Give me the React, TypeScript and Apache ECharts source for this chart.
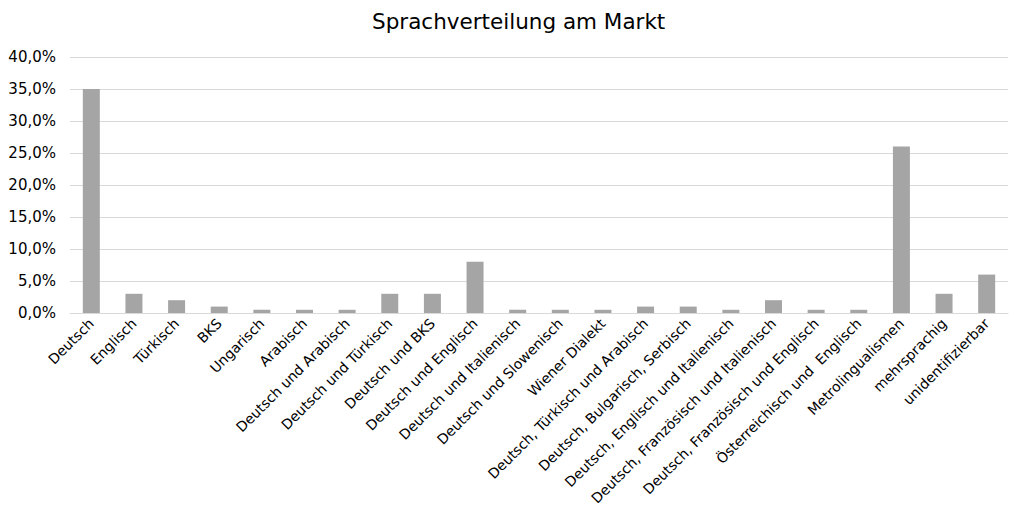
import React, { useEffect, useRef } from "react";
import * as echarts from "echarts";

const title = "Sprachverteilung am Markt";
const categories = [
  "Deutsch",
  "Englisch",
  "Türkisch",
  "BKS",
  "Ungarisch",
  "Arabisch",
  "Deutsch und Arabisch",
  "Deutsch und Türkisch",
  "Deutsch und BKS",
  "Deutsch und Englisch",
  "Deutsch und Italienisch",
  "Deutsch und Slowenisch",
  "Wiener Dialekt",
  "Deutsch, Türkisch und Arabisch",
  "Deutsch, Bulgarisch, Serbisch",
  "Deutsch, Englisch und Italienisch",
  "Deutsch, Französisch und Italienisch",
  "Deutsch, Französisch und Englisch",
  "Österreichisch und  Englisch",
  "Metrolingualismen",
  "mehrsprachig",
  "unidentifizierbar",
];
const values = [35, 3, 2, 1, 0.5, 0.5, 0.5, 3, 3, 8, 0.5, 0.5, 0.5, 1, 1, 0.5, 2, 0.5, 0.5, 26, 3, 6];

export default function App() {
  const ref = useRef<HTMLDivElement>(null);
  useEffect(() => {
    document.body.style.margin = "0";
    const chart = echarts.init(ref.current!, null, { renderer: "svg" });
    chart.setOption({
      animation: false,
      backgroundColor: "#ffffff",
      title: {
        text: title,
        left: 367,
        top: 5,
        textStyle: { fontFamily: "DejaVu Sans", fontSize: 21.5, fontWeight: "normal", color: "#000000" },
      },
      grid: { left: 70, right: 14, top: 57, bottom: 199, containLabel: false },
      xAxis: {
        type: "category",
        data: categories,
        axisLine: { lineStyle: { color: "#D9D9D9", width: 1 } },
        axisTick: { show: false },
        axisLabel: {
          interval: 0,
          rotate: 45,
          margin: 8,
          fontFamily: "DejaVu Sans",
          fontSize: 14,
          color: "#000000",
        },
      },
      yAxis: {
        type: "value",
        min: 0,
        max: 40,
        interval: 5,
        axisLine: { show: false },
        axisTick: { show: false },
        splitLine: { lineStyle: { color: "#D9D9D9", width: 1 } },
        axisLabel: {
          margin: 14,
          fontFamily: "DejaVu Sans",
          fontSize: 15,
          color: "#000000",
          formatter: (v: number) => v.toFixed(1).replace(".", ",") + "%",
        },
      },
      series: [
        {
          type: "bar",
          data: values,
          barWidth: 17,
          itemStyle: { color: "#A5A5A5" },
        },
      ],
    });
    return () => chart.dispose();
  }, []);
  return <div ref={ref} style={{ width: 1022, height: 512 }} />;
}
